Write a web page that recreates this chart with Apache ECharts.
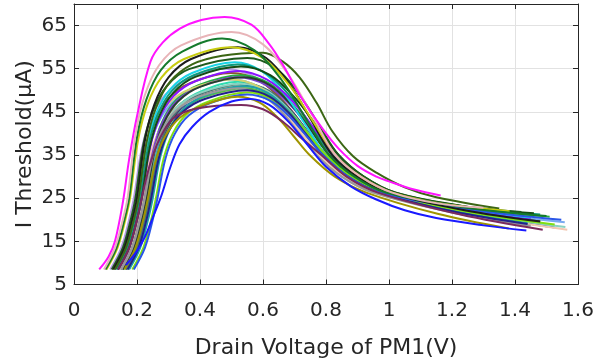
<!DOCTYPE html>
<html>
<head>
<meta charset="utf-8">
<script src="https://cdn.jsdelivr.net/npm/echarts@6/dist/echarts.min.js"></script>
<style>html,body{margin:0;padding:0;background:#fff}#c{width:596px;height:358px}</style>
</head>
<body>
<div id="c"></div>
<script>
// Tick settings
const xTicks = {min: 0, max: 1.6, interval: 0.2};
const yTicks = {min: 5, max: 70, interval: 10};
const xName = 'Drain Voltage of PM1(V)';
const yName = 'I Threshold(\u03bcA)';

// Curves: [x (V), y (uA)]
const cLavender = [[0.115,8.5],[0.15,13.5],[0.175,20],[0.19,25],[0.215,36.4],[0.245,43.6],[0.29,49],[0.36,52.6],[0.48,55],[0.576,53],[0.656,48],[0.73,41.4],[0.8,35],[0.88,30],[0.98,26.3],[1.19,22.6],[1.4,20.5]];
const cBrown = [[0.125,8.5],[0.16,13.5],[0.185,20],[0.2,25],[0.225,36],[0.255,43],[0.3,48.2],[0.37,51.7],[0.5,54],[0.59,52.1],[0.665,47.4],[0.734,41.1],[0.8,35],[0.88,30],[0.98,26.3],[1.2,22.5],[1.42,20.2]];
const cLightBlue = [[0.135,8.5],[0.17,13.5],[0.195,20],[0.21,25],[0.235,35.5],[0.265,42.1],[0.31,47],[0.38,50.3],[0.5,52.5],[0.587,50.8],[0.66,46.4],[0.726,40.6],[0.79,35],[0.87,30],[0.97,26.3],[1.264,22.1],[1.558,19.4]];
const cGreen = [[0.15,8.5],[0.185,13.5],[0.21,20],[0.225,25],[0.25,35.8],[0.28,42.7],[0.325,47.8],[0.395,51.2],[0.53,53.5],[0.617,51.7],[0.69,47],[0.756,40.9],[0.82,35],[0.9,30],[1.0,26.3],[1.255,22.7],[1.51,20.7]];
const cDarkPurple = [[0.165,8.5],[0.2,13.5],[0.225,20],[0.24,25],[0.265,34.9],[0.295,41.1],[0.34,45.8],[0.41,48.9],[0.55,51],[0.625,49.4],[0.688,45.4],[0.745,40.1],[0.8,35],[0.88,30],[0.98,26.3],[1.22,22.1],[1.46,19.5]];
const cTan = [[0.145,8.5],[0.18,13.5],[0.205,20],[0.22,25],[0.245,34.9],[0.275,41.1],[0.32,45.8],[0.39,48.9],[0.52,51],[0.595,49.4],[0.658,45.4],[0.715,40.1],[0.77,35],[0.85,30],[0.95,26.3],[1.225,21.6],[1.5,18.5]];
const cAquamarine = [[0.16,8.5],[0.195,13.5],[0.22,20],[0.235,25],[0.26,35.3],[0.29,41.7],[0.335,46.6],[0.405,49.8],[0.52,52],[0.604,50.3],[0.674,46],[0.738,40.4],[0.8,35],[0.88,30],[0.98,26.3],[1.19,22.3],[1.4,19.8]];
const cSteel = [[0.155,8.5],[0.19,13.5],[0.215,20],[0.23,25],[0.255,34.7],[0.285,40.8],[0.33,45.4],[0.4,48.5],[0.52,50.5],[0.601,49],[0.669,45.1],[0.731,40],[0.79,35],[0.87,30],[0.97,26.3],[1.2,22.2],[1.43,19.6]];
const cGrayTeal = [[0.165,8.5],[0.2,13.5],[0.225,20],[0.24,25],[0.265,35.1],[0.295,41.4],[0.34,46.2],[0.41,49.4],[0.54,51.5],[0.618,49.9],[0.683,45.7],[0.743,40.3],[0.8,35],[0.88,30],[0.98,26.3],[1.253,21.5],[1.526,18.2]];
const cPeach = [[0.14,8.5],[0.175,13.5],[0.2,20],[0.215,25],[0.24,34.5],[0.27,40.5],[0.315,45],[0.385,48],[0.53,50],[0.605,48.5],[0.668,44.8],[0.725,39.8],[0.78,35],[0.86,30],[0.96,26.3],[1.263,21.2],[1.566,17.7]];
const cViolet = [[0.15,8.5],[0.185,13.5],[0.21,20],[0.225,25],[0.25,35.6],[0.28,42.4],[0.325,47.4],[0.395,50.8],[0.52,53],[0.61,51.2],[0.685,46.7],[0.754,40.8],[0.82,35],[0.9,30],[1.0,26.3],[1.225,22.5],[1.45,20.3]];
const cLightAqua = [[0.155,8.5],[0.19,13.5],[0.215,20],[0.23,25],[0.255,35.1],[0.285,41.4],[0.33,46.2],[0.4,49.4],[0.53,51.5],[0.611,49.9],[0.679,45.7],[0.741,40.3],[0.8,35],[0.88,30],[0.98,26.3],[1.27,21.5],[1.56,18.3]];
const cKhaki = [[0.125,8.5],[0.16,13.5],[0.185,20],[0.2,25],[0.225,35.5],[0.255,42.1],[0.3,47],[0.37,50.3],[0.5,52.5],[0.587,50.8],[0.66,46.4],[0.726,40.6],[0.79,35],[0.87,30],[0.97,26.3],[1.16,22.9],[1.35,21]];
const cSlate = [[0.155,8.5],[0.19,13.5],[0.215,20],[0.23,25],[0.255,35.6],[0.285,42.4],[0.33,47.4],[0.4,50.8],[0.54,53],[0.621,51.2],[0.689,46.7],[0.751,40.8],[0.81,35],[0.89,30],[0.99,26.3],[1.235,22.2],[1.48,19.6]];
const cMidGreen = [[0.17,8.5],[0.205,13.5],[0.23,20],[0.245,25],[0.27,34.7],[0.3,40.8],[0.345,45.4],[0.415,48.5],[0.54,50.5],[0.618,49],[0.683,45.1],[0.743,40],[0.8,35],[0.88,30],[0.98,26.3],[1.2,22.1],[1.42,19.5]];
const cTealBlue = [[0.175,8.5],[0.21,13.5],[0.235,20],[0.25,25],[0.275,34.9],[0.305,41.1],[0.35,45.8],[0.42,48.9],[0.54,51],[0.615,49.4],[0.678,45.4],[0.735,40.1],[0.79,35],[0.87,30],[0.97,26.3],[1.205,22],[1.44,19.2]];
const cGray = [[0.15,8.5],[0.185,13.5],[0.21,20],[0.225,25],[0.25,34.7],[0.28,40.8],[0.325,45.4],[0.395,48.5],[0.52,50.5],[0.595,49],[0.658,45.1],[0.715,40],[0.77,35],[0.85,30],[0.95,26.3],[1.2,21.7],[1.45,18.6]];
const cCyan = [[0.13,8.5],[0.165,13.5],[0.19,20],[0.205,25],[0.23,37],[0.26,44.5],[0.305,50.2],[0.375,54],[0.51,56.5],[0.597,54.4],[0.67,49],[0.736,41.9],[0.8,35],[0.88,30],[0.98,26.3],[1.215,22.6],[1.45,20.5]];
const cTeal = [[0.135,8.5],[0.17,13.5],[0.195,20],[0.21,25],[0.235,36.8],[0.265,44.2],[0.31,49.8],[0.38,53.5],[0.52,56],[0.61,53.9],[0.685,48.7],[0.754,41.7],[0.82,35],[0.9,30],[1.0,26.3],[1.24,23],[1.48,21.2]];
const cPurple = [[0.14,8.5],[0.175,13.5],[0.2,20],[0.215,25],[0.24,36.2],[0.27,43.3],[0.315,48.6],[0.385,52.1],[0.52,54.5],[0.613,52.5],[0.691,47.7],[0.762,41.2],[0.83,35],[0.91,30],[1.01,26.3],[1.23,22.4],[1.45,20]];
const cForest = [[0.14,8.5],[0.175,13.5],[0.2,20],[0.215,25],[0.24,36.6],[0.27,43.9],[0.315,49.4],[0.385,53.1],[0.53,55.5],[0.623,53.5],[0.701,48.3],[0.772,41.6],[0.84,35],[0.92,30],[1.02,26.3],[1.24,23.1],[1.46,21.5]];
const cDarkGreen2 = [[0.12,8.5],[0.155,13.5],[0.18,20],[0.195,25],[0.22,37.4],[0.25,45.2],[0.295,51],[0.365,54.9],[0.55,57.5],[0.637,55.3],[0.71,49.6],[0.776,42.2],[0.84,35],[0.92,30],[1.02,26.3],[1.22,23.3],[1.42,21.8]];
const cLime = [[0.185,8.5],[0.22,13.5],[0.245,20],[0.26,25],[0.285,34.3],[0.315,40.2],[0.36,44.6],[0.43,47.5],[0.55,49.5],[0.625,48.1],[0.688,44.4],[0.745,39.6],[0.8,35],[0.88,30],[0.98,26.3],[1.253,21.8],[1.526,18.9]];
const cNavy = [[0.17,8.5],[0.205,13.5],[0.23,20],[0.245,25],[0.27,34.5],[0.3,40.5],[0.345,45],[0.415,48],[0.55,50],[0.622,48.5],[0.682,44.8],[0.737,39.8],[0.79,35],[0.87,30],[0.97,26.3],[1.205,21.9],[1.44,19]];
const cRoyal = [[0.19,8.5],[0.225,13.5],[0.25,20],[0.265,25],[0.29,34.1],[0.32,39.9],[0.365,44.2],[0.435,47.1],[0.55,49],[0.622,47.6],[0.682,44.1],[0.737,39.5],[0.79,35],[0.87,30],[0.97,26.3],[1.258,22.4],[1.547,20]];
const cOlive = [[0.16,8.5],[0.195,13.5],[0.22,20],[0.235,25],[0.26,33.9],[0.29,39.4],[0.335,43.6],[0.405,46.4],[0.52,48.5],[0.588,47.2],[0.645,43.8],[0.698,39.3],[0.748,35],[0.828,30],[0.928,26.3],[1.154,21.4],[1.38,18]];
const cMaroon = [[0.14,8.5],[0.175,13.5],[0.2,20],[0.215,25],[0.24,32.5],[0.27,38.5],[0.315,43.5],[0.39,45.8],[0.53,46.6],[0.6,45.6],[0.665,42.6],[0.725,38.7],[0.785,35],[0.865,30],[0.965,26.3],[1.227,21.2],[1.488,17.7]];
const cBlue = [[0.165,9.5],[0.2,12.8],[0.225,16],[0.25,20.5],[0.277,25.5],[0.305,32],[0.335,37.5],[0.375,41.5],[0.43,45],[0.5,47.4],[0.56,48],[0.62,46.6],[0.68,42.8],[0.74,37.5],[0.8,32.3],[0.88,27.7],[0.96,24.7],[1.05,22.2],[1.15,20.4],[1.3,18.7],[1.436,17.5]];
const cBlack = [[0.125,8.5],[0.16,13.5],[0.185,20],[0.2,25],[0.225,38.3],[0.255,46.7],[0.3,53],[0.37,57.2],[0.52,60],[0.61,57.5],[0.685,51.3],[0.754,43],[0.82,35],[0.9,30],[1.0,26.3],[1.24,22.2],[1.48,19.6]];
const cDarkOlive = [[0.13,8.5],[0.165,13.5],[0.19,20],[0.205,25],[0.23,37.8],[0.26,45.9],[0.305,52],[0.375,56],[0.47,58],[0.6,58.7],[0.662,56.7],[0.716,53],[0.77,47.1],[0.82,40.5],[0.886,34.7],[0.96,30.9],[1.05,27.5],[1.15,25.2],[1.35,22.6]];
const cYellow = [[0.103,8.5],[0.138,13.5],[0.163,20],[0.178,25],[0.203,38.3],[0.233,46.7],[0.278,53],[0.348,57.2],[0.5,60],[0.599,57.5],[0.682,51.3],[0.757,43],[0.83,35],[0.91,30],[1.01,26.3],[1.197,23.4],[1.383,22]];
const cDarkGreen = [[0.1,8.5],[0.135,13.5],[0.16,20],[0.175,25],[0.2,39.1],[0.23,47.9],[0.275,54.6],[0.345,59],[0.47,62],[0.572,59.3],[0.657,52.6],[0.735,43.6],[0.81,35],[0.89,30],[0.99,26.3],[1.245,22.8],[1.5,20.9]];
const cPink = [[0.095,8.5],[0.13,13.5],[0.155,20],[0.17,25],[0.195,39.6],[0.225,48.9],[0.27,55.8],[0.34,60.4],[0.5,63.5],[0.599,60.7],[0.682,53.5],[0.757,44.1],[0.83,35],[0.91,30],[1.01,26.3],[1.155,23.8],[1.3,22.8]];
const cMagenta = [[0.08,8.5],[0.11,11.5],[0.13,15],[0.155,24],[0.175,34],[0.2,44],[0.243,56.7],[0.282,61.1],[0.336,64.3],[0.404,66.3],[0.478,67],[0.563,65.2],[0.621,60.6],[0.663,55.9],[0.72,48.5],[0.79,41],[0.84,36.5],[0.9,32.5],[0.96,30],[1.0,28.9],[1.08,27],[1.164,25.6]];

const curves = [cLavender,cBrown,cLightBlue,cGreen,cDarkPurple,cTan,cAquamarine,cSteel,cGrayTeal,cPeach,cViolet,cLightAqua,cKhaki,cSlate,cMidGreen,cTealBlue,cGray,cCyan,cTeal,cPurple,cForest,cDarkGreen2,cLime,cNavy,cRoyal,cOlive,cMaroon,cBlue,cBlack,cDarkOlive,cYellow,cDarkGreen,cPink,cMagenta];
const colors = ['#b49ae0','#8c5a2a','#78aaf0','#24b040','#3c1c5a','#bcb494','#30dcb0','#3a7cc4','#4a7272','#f2c8b2','#7a40d0','#8ad2c0','#d2d26e','#283c30','#50c048','#1ea0a8','#9a9a9a','#19d4e6','#0e9a7c','#8a14ff','#134d14','#1e5a1e','#80e010','#22208c','#2a56e8','#a09400','#7a2a5e','#1a1aff','#1c1c1c','#3b6614','#c8cc10','#157a2c','#e8b4b8','#ff14ff'];

const FONT = 'DejaVu Sans';
const TXT = '#262626';
const chart = echarts.init(document.getElementById('c'), null, {renderer: 'canvas'});
const axisCommon = {
  axisLine: {show: true, onZero: false, lineStyle: {color: TXT, width: 1}},
  axisTick: {show: true, inside: true, length: 5, lineStyle: {color: TXT}},
};
chart.setOption({
  animation: false,
  backgroundColor: '#fff',
  grid: {left: 74, right: 18, top: 4, bottom: 73.5, containLabel: false, outerBoundsMode: 'none'},
  xAxis: [
    Object.assign({type: 'value', position: 'bottom', min: xTicks.min, max: xTicks.max, interval: xTicks.interval,
      name: xName, nameLocation: 'middle', nameGap: 53, nameMoveOverlap: false,
      nameTextStyle: {fontFamily: FONT, fontSize: 22, color: TXT},
      axisLabel: {fontFamily: FONT, fontSize: 20, color: TXT, margin: 16},
      splitLine: {show: true, lineStyle: {color: '#e2e2e2', width: 1}}}, axisCommon),
    Object.assign({type: 'value', position: 'top', min: xTicks.min, max: xTicks.max, interval: xTicks.interval,
      axisLabel: {show: false}, splitLine: {show: false}}, axisCommon)
  ],
  yAxis: [
    Object.assign({type: 'value', position: 'left', min: yTicks.min, max: yTicks.max, interval: yTicks.interval,
      name: yName, nameLocation: 'middle', nameGap: 38, nameMoveOverlap: false,
      nameTextStyle: {fontFamily: FONT, fontSize: 22, color: TXT},
      axisLabel: {fontFamily: FONT, fontSize: 20, color: TXT, margin: 7, showMaxLabel: false},
      splitLine: {show: true, lineStyle: {color: '#e2e2e2', width: 1}}}, axisCommon),
    Object.assign({type: 'value', position: 'right', min: yTicks.min, max: yTicks.max, interval: yTicks.interval,
      axisLabel: {show: false}, splitLine: {show: false}}, axisCommon)
  ],
  series: curves.map((d, i) => ({
    type: 'line', data: d, xAxisIndex: 0, yAxisIndex: 0,
    showSymbol: false, smooth: 0.35,
    lineStyle: {width: 2, color: colors[i]}, itemStyle: {color: colors[i]},
    silent: true
  }))
});
</script>
</body>
</html>
